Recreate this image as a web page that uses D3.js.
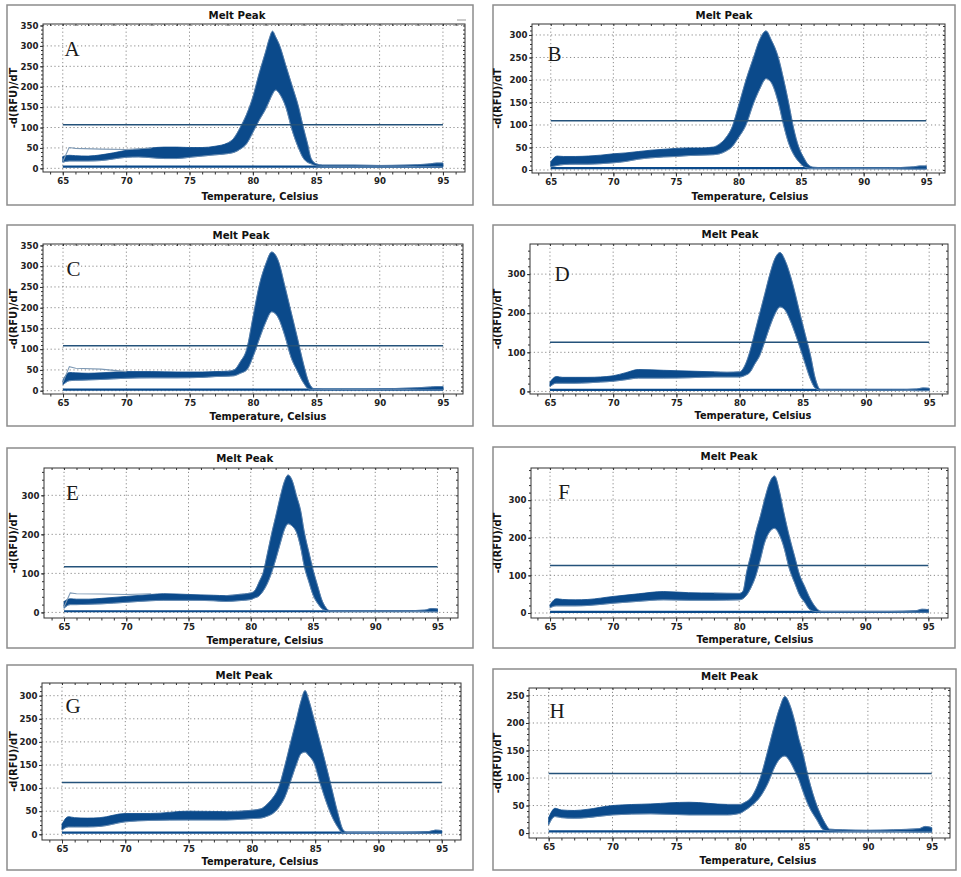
<!DOCTYPE html>
<html><head><meta charset="utf-8">
<script src="https://cdn.jsdelivr.net/npm/d3@7/dist/d3.min.js"></script>
<style>
html,body{margin:0;padding:0;background:#fff;}
svg{display:block;}
</style></head>
<body>
<svg id="chart" width="961" height="877"></svg>
<script>
// ---------------- DATA ----------------
const panelLetters = ["A","B","C","D","E","F","G","H"];
const thresholds = [106.5, 109.6, 108.4, 126, 117, 126, 112, 108];
const baselines  = [4, 4, 2.5, 4, 3, 3, 3.5, 3];
const yTicksA = [0,50,100,150,200,250,300,350];
const yTicksB = [0,50,100,150,200,250,300];
const yTicksD = [0,100,200,300];
const yTicksH = [0,50,100,150,200,250];
const xTicks = [65,70,75,80,85,90,95];

const tempA  = [65,65.5,66,67,68,69,70,71,72,73,74,75,76,77,78,78.5,79,79.5,80,80.5,81,81.3,81.55,81.8,82.1,82.6,83.1,83.6,84,84.3,84.6,85,85.5,86,88,90,92,93,94,94.5,95];
const upperA = [29,32,31,30,33,38,44,47,50,52,52,51,51,54,62,74,100,132,175,233,285,318,336,322,302,252,202,151,98,62,24,11,8,8,8,7,8,9,11,13,13];
const lowerA = [15,18,18,18,19,23,27,28,26,24,24,27,30,33,36,39,47,60,88,118,145,165,182,192,183,150,93,50,24,15,11,6,5,5,5,5,5,4,4,4,3];
const outTempA = [65,65.5,66,68,70,72];
const outValA  = [16,51,49,47,46,50];

const tempB  = [65,65.5,66,67,68,69,70,71,72,73,74,75,76,77,78,78.5,79,79.5,80,80.6,81.2,81.7,82.2,82.6,83.2,83.6,84,84.4,84.8,85.2,85.6,86,87,88,90,92,94,94.5,95];
const upperB = [18,31,30,30,31,33,36,38,41,44,46,48,49,49,51,58,72,96,142,200,250,290,309,290,248,202,150,93,52,28,11,6,5,5,5,5,7,9,9];
const lowerB = [7,10,12,13,13,14,16,19,24,27,29,30,32,33,34,36,42,52,72,100,148,180,203,195,148,100,60,35,19,8,4,3,3,3,3,3,2,2,2];

const tempC  = [65,65.5,66,67,68,70,72,74,76,77,78,78.5,79,79.5,80,80.5,81,81.47,82,82.5,83,83.5,84,84.4,84.8,85.5,87,89,91,92,93,94,94.5,95];
const upperC = [26,44,43,42,43,46,46,45,45,46,47,50,70,100,178,255,305,334,312,253,190,127,62,20,5,4,4,4,5,6,7,9,10,10];
const lowerC = [14,24,25,26,27,30,31,31,32,34,35,36,42,50,82,125,165,190,175,133,80,47,18,4,3,3,3,3,3,3,2,2,2,2];
const outTempC = [65,65.5,66,68,70];
const outValC  = [20,58,54,52,46];

const tempD  = [65,65.5,66,67,68,69,70,71,72,74,76,78,79,80,80.5,80.8,81.2,81.6,82,82.4,82.8,83.2,83.6,84,84.4,84.8,85.2,85.6,86,86.4,87,88,90,92,94,94.5,95];
const upperD = [24,38,36,36,36,37,40,48,56,54,52,50,49,50,72,100,150,200,250,300,340,355,335,298,250,196,145,94,32,5,4,4,4,4,6,9,8];
const lowerD = [12,21,21,21,22,24,26,30,34,34,35,37,37,37,42,48,70,92,128,166,198,216,208,182,148,110,70,32,8,3,3,3,3,3,2,2,2];

const tempE  = [65,65.5,66,67,68,70,72,73,75,77,78,79,80,80.3,80.7,81,81.3,81.7,82,82.4,82.7,83,83.3,83.7,84,84.3,84.7,85,85.4,85.7,86,86.3,87,88,90,92,94,94.5,95];
const upperE = [28,35,34,34,36,41,46,48,46,44,43,46,50,55,80,102,145,205,245,300,335,352,340,296,262,206,150,110,65,33,14,5,4,4,4,4,6,10,9];
const lowerE = [11,20,20,21,22,26,30,31,31,30,28,30,33,37,43,55,72,104,135,180,212,227,222,203,168,118,75,45,22,10,5,3,3,3,3,3,2,2,2];
const outTempE = [65,65.5,66,68,70,72];
const outValE  = [14,50,48,47,46,48];

const tempF  = [65,65.5,66,67,68,70,72,74,76,78,80,80.3,80.6,81,81.3,81.7,82,82.4,82.8,83.2,83.5,84,84.4,84.8,85.2,85.6,86,86.5,87,88,90,92,94,94.5,95];
const upperF = [22,38,36,35,36,44,51,57,54,53,52,58,110,165,212,260,300,345,364,322,273,200,150,100,70,40,18,4,4,4,4,4,6,10,9];
const lowerF = [14,19,19,19,20,26,31,35,34,34,35,38,48,72,97,145,185,215,225,207,180,115,80,47,28,9,4,3,3,3,3,3,2,2,2];

const tempG  = [65,65.5,66,67,68,70,72,75,78,80,80.7,81.2,81.6,82.1,82.6,83.1,83.5,83.9,84.2,84.5,84.9,85.4,85.85,86.3,86.75,87.2,87.5,88,90,92,94,94.5,95];
const upperG = [22,38,36,35,36,45,45,50,49,52,55,65,77,100,148,203,246,290,311,290,250,198,150,100,50,10,4,4,4,4,6,9,8];
const lowerG = [9,16,16,16,17,27,30,31,31,34,35,39,44,57,80,118,150,175,178,170,155,110,72,40,17,3,3,3,3,3,2,2,2];

const tempH  = [65,65.5,66,67,68,70,73,76,79,80,80.3,80.9,81.6,82.2,82.7,83.1,83.5,83.9,84.3,84.6,84.85,85.35,86,86.5,86.8,87,88,90,92,94,94.5,95];
const upperH = [28,45,42,41,43,50,53,56,52,52,55,66,102,153,197,228,248,232,200,170,150,100,50,24,12,7,6,5,6,8,12,10];
const lowerH = [15,30,28,27,28,33,35,33,33,36,40,50,67,92,120,135,140,130,112,97,80,50,24,6,4,4,3,3,3,2,2,2];

const temps   = [tempA,tempB,tempC,tempD,tempE,tempF,tempG,tempH];
const uppers  = [upperA,upperB,upperC,upperD,upperE,upperF,upperG,upperH];
const lowers  = [lowerA,lowerB,lowerC,lowerD,lowerE,lowerF,lowerG,lowerH];
const outliers = [[outTempA,outValA],null,[outTempC,outValC],null,[outTempE,outValE],null,null,null];
const yTickSets = [yTicksA,yTicksB,yTicksA,yTicksD,yTicksD,yTicksD,yTicksB,yTicksH];
const yMinorSteps = [10,10,10,20,20,20,10,10];

// ---------------- LAYOUT ----------------
const layout = [
 {frame:[7,5,473,205],   plot:[43,24,465,172],  yDom:[-9,353.7],   xDom:[63.44,96.74], ylab:13.5, title:[237,15],    xlab:[260,196.7], letter:[72,56]},
 {frame:[493,5,955,205], plot:[532,24,945,173], yDom:[-6.7,324.4], xDom:[63.5,96.5],   ylab:497, title:[724,15],    xlab:[750,196.7], letter:[554.5,60.7]},
 {frame:[7,225,473,426], plot:[43,244,463,394], yDom:[-8,353.5],   xDom:[63.42,96.57], ylab:13.5, title:[241,235],   xlab:[268,416],   letter:[73.5,275.7]},
 {frame:[493,225,955,426],plot:[530,244,948,394],yDom:[-6.6,377],  xDom:[63.42,96.49], ylab:497, title:[730,234],   xlab:[753,415.5], letter:[562,280.7]},
 {frame:[7,448,473,648], plot:[44,468,458,618], yDom:[-14.3,370],  xDom:[63.39,96.65], ylab:13.5, title:[244.7,458.3], xlab:[265,640], letter:[72.5,500]},
 {frame:[493,447,955,648],plot:[531,468,948,618],yDom:[-13.3,385.4],xDom:[63.49,96.56],ylab:497, title:[729,456.7], xlab:[755,639], letter:[564,499.3]},
 {frame:[7,665,473,870], plot:[42,683,461,840], yDom:[-12.4,327.5], xDom:[63.42,96.52],ylab:13.5, title:[244,675],   xlab:[260,861], letter:[73,713.3]},
 {frame:[493,669,956,870],plot:[529,688,950,838],yDom:[-9,263.6],   xDom:[63.46,96.43],ylab:497, title:[729.5,676.7], xlab:[758,860.5], letter:[557,718.3]}
];

const BLUE = "#0b4a8b";
const svg = d3.select("#chart");
const sans = "'DejaVu Sans', Verdana, sans-serif";

layout.forEach((L, i) => {
  const [fx0, fy0, fx1, fy1] = L.frame;
  const [px0, py0, px1, py1] = L.plot;
  const g = svg.append("g");

  g.append("rect").attr("x", fx0).attr("y", fy0).attr("width", fx1 - fx0).attr("height", fy1 - fy0)
    .attr("fill", "#fff").attr("stroke", "#8c8c8c").attr("stroke-width", 1.5);

  const x = d3.scaleLinear().domain(L.xDom).range([px0, px1]);
  const y = d3.scaleLinear().domain(L.yDom).range([py1, py0]);

  const clipId = "clip" + i;
  g.append("clipPath").attr("id", clipId).append("rect")
    .attr("x", px0).attr("y", py0).attr("width", px1 - px0).attr("height", py1 - py0);

  // grid
  const grid = g.append("g").attr("stroke", "#8a8a8a").attr("stroke-width", 1).attr("stroke-dasharray", "1.2,2.6");
  grid.selectAll("line.vx").data(xTicks).join("line")
    .attr("x1", d => x(d)).attr("x2", d => x(d)).attr("y1", py0).attr("y2", py1);
  grid.selectAll("line.hy").data(yTickSets[i]).join("line")
    .attr("y1", d => y(d)).attr("y2", d => y(d)).attr("x1", px0).attr("x2", px1);

  const plot = g.append("g").attr("clip-path", `url(#${clipId})`);

  const T = temps[i], U = uppers[i], Lo = lowers[i];
  const pts = T.map((t, k) => ({t, u: U[k], l: Lo[k]}));

  // negative-control baseline
  plot.append("path")
    .attr("d", d3.line().x(d => x(d)).y(() => y(baselines[i]))([65, 95]))
    .attr("stroke", BLUE).attr("stroke-width", 2.2).attr("fill", "none");

  // curve bundle envelope
  plot.append("path").datum(pts)
    .attr("d", d3.area().curve(d3.curveMonotoneX).x(d => x(d.t)).y0(d => y(d.l)).y1(d => y(d.u)))
    .attr("fill", BLUE).attr("stroke", BLUE).attr("stroke-width", 0.8);

  // light outline of lowest / highest curve
  plot.append("path").datum(pts)
    .attr("d", d3.line().curve(d3.curveMonotoneX).x(d => x(d.t)).y(d => y(d.l)))
    .attr("fill", "none").attr("stroke", "#7f9cbc").attr("stroke-width", 0.7);
  plot.append("path").datum(pts.filter(d => d.t >= 78))
    .attr("d", d3.line().curve(d3.curveMonotoneX).x(d => x(d.t)).y(d => y(d.u)))
    .attr("fill", "none").attr("stroke", "#6f8fb3").attr("stroke-width", 0.6);

  if (outliers[i]) {
    const [ot, ov] = outliers[i];
    plot.append("path").datum(ot.map((t, k) => ({t, v: ov[k]})))
      .attr("d", d3.line().x(d => x(d.t)).y(d => y(d.v)))
      .attr("fill", "none").attr("stroke", "#7f9ab5").attr("stroke-width", 1.1);
  }

  // threshold
  plot.append("line")
    .attr("x1", x(65)).attr("x2", x(95)).attr("y1", y(thresholds[i])).attr("y2", y(thresholds[i]))
    .attr("stroke", "#24527a").attr("stroke-width", 1.5);

  // border
  g.append("rect").attr("x", px0).attr("y", py0).attr("width", px1 - px0).attr("height", py1 - py0)
    .attr("fill", "none").attr("stroke", "#333").attr("stroke-width", 1);

  // axes
  const styleAxis = sel => {
    sel.select(".domain").remove();
    sel.selectAll(".tick line").attr("stroke", "#333");
    sel.selectAll("text").attr("font-family", sans).attr("font-weight", "bold")
      .attr("font-size", 8.6).attr("fill", "#222");
  };
  const xMinor = d3.range(64, 97);
  g.append("g").attr("transform", `translate(0,${py1})`)
    .call(d3.axisBottom(x).tickValues(xMinor).tickSize(2.5).tickFormat("")).call(styleAxis);
  g.append("g").attr("transform", `translate(0,${py1})`)
    .call(d3.axisBottom(x).tickValues(xTicks).tickSize(3.5).tickPadding(2).tickFormat(d3.format("d"))).call(styleAxis);
  g.append("g").attr("transform", `translate(0,${py0})`)
    .call(d3.axisTop(x).tickValues(xMinor).tickSize(-2).tickFormat("")).call(styleAxis);

  const yt = yTickSets[i];
  const yMinor = d3.range(0, L.yDom[1], yMinorSteps[i]);
  g.append("g").attr("transform", `translate(${px0},0)`)
    .call(d3.axisLeft(y).tickValues(yMinor).tickSize(2).tickFormat("")).call(styleAxis);
  g.append("g").attr("transform", `translate(${px0},0)`)
    .call(d3.axisLeft(y).tickValues(yt).tickSize(3).tickPadding(1.5).tickFormat(d3.format("d"))).call(styleAxis);
  g.append("g").attr("transform", `translate(${px1},0)`)
    .call(d3.axisRight(y).tickValues(yMinor).tickSize(-2).tickFormat("")).call(styleAxis);

  // texts
  g.append("text").attr("x", L.title[0]).attr("y", L.title[1]).attr("text-anchor", "middle")
    .attr("dominant-baseline", "central").attr("font-family", sans).attr("font-weight", "bold")
    .attr("font-size", 10.2).attr("fill", "#111").text("Melt Peak");
  g.append("text").attr("x", L.xlab[0]).attr("y", L.xlab[1]).attr("text-anchor", "middle")
    .attr("dominant-baseline", "central").attr("font-family", sans).attr("font-weight", "bold")
    .attr("font-size", 9.8).attr("fill", "#111").text("Temperature, Celsius");
  g.append("text").attr("transform", `translate(${L.ylab},${(py0 + py1) / 2}) rotate(-90)`)
    .attr("text-anchor", "middle").attr("dominant-baseline", "central").attr("font-family", sans)
    .attr("font-weight", "bold").attr("font-size", 10).attr("fill", "#111").text("-d(RFU)/dT");
  g.append("text").attr("x", L.letter[0]).attr("y", L.letter[1]).attr("text-anchor", "middle")
    .attr("font-family", "'Liberation Serif', 'DejaVu Serif', serif").attr("font-size", 21)
    .attr("fill", "#1a1a1a").text(panelLetters[i]);
});

// small legend dash at top right of panel A
svg.append("line").attr("x1", 457).attr("x2", 466).attr("y1", 20).attr("y2", 20)
  .attr("stroke", "#999").attr("stroke-width", 1);
</script>
</body></html>
